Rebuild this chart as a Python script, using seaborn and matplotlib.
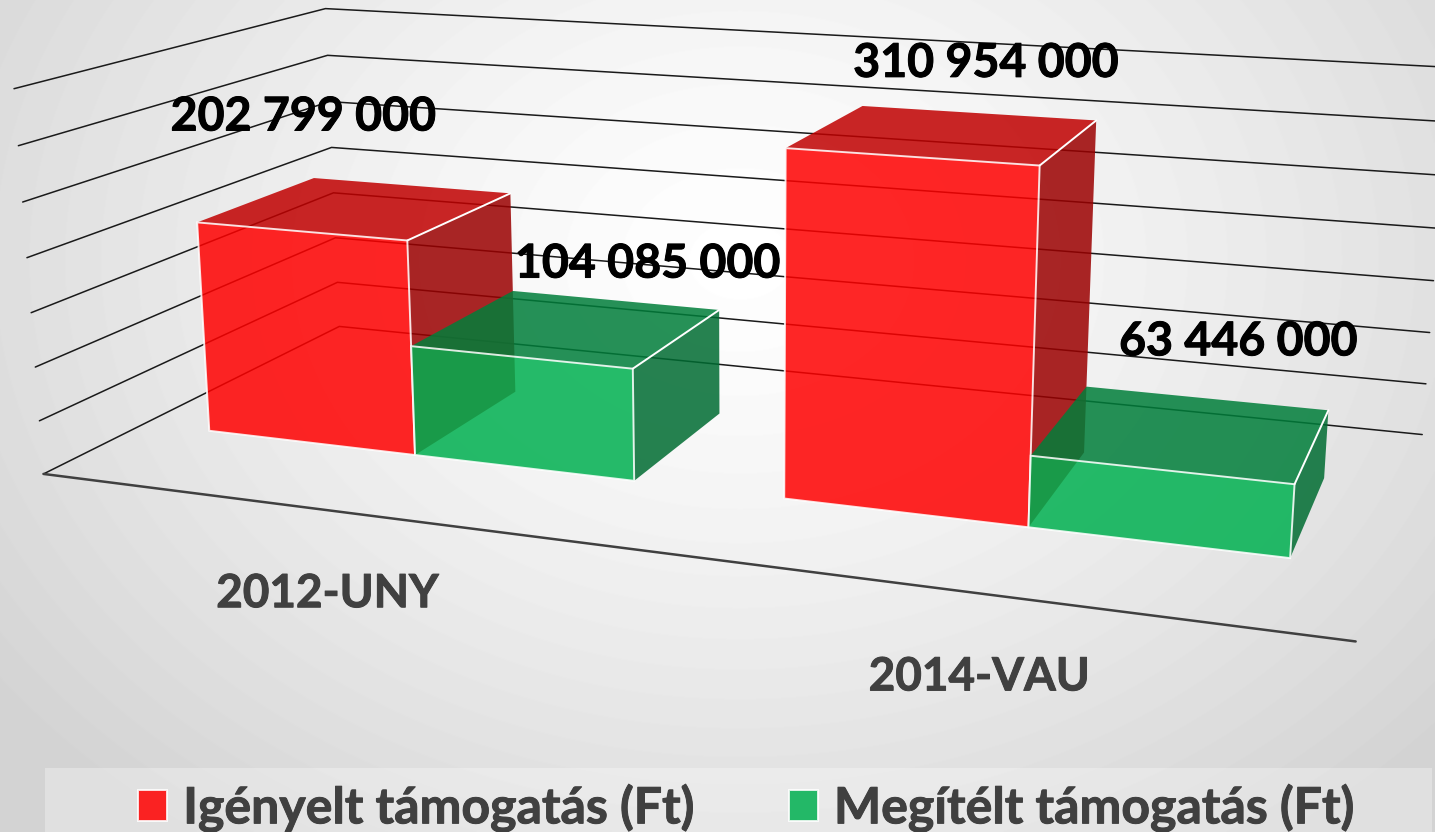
import numpy as np
import pandas as pd
import seaborn as sns
import matplotlib
matplotlib.use("Agg")
import matplotlib.pyplot as plt
from matplotlib import transforms as mtransforms
from matplotlib import patheffects
from matplotlib.patches import Polygon, Rectangle

projects = ["2012-UNY", "2014-VAU"]
requested = [202799000, 310954000]
granted = [104085000, 63446000]
series_names = ["Igényelt támogatás (Ft)", "Megítélt támogatás (Ft)"]
grid_values = [0, 50e6, 100e6, 150e6, 200e6, 250e6, 300e6, 350e6]

W, H = 1435, 832
Z_TOP = 350e6
D_FRONT, D_BACK = 0.30, 0.70
X_LEFT, X_RIGHT = -0.5, 1.5

# Frame of the fake 3D box: (category x, depth, value) -> where it sits in the image
# The chart is flat seaborn bars pushed through this camera
left_front = [(14, 89), (18, 146), (23, 202), (27, 258), (31, 313), (35, 367), (39, 421), (44, 473)]
left_back = [(325, 9), (328, 55), (330, 101), (332, 147), (333, 193), (335, 238), (338, 282), (339, 327)]
calib_world = []
calib_img = []
for i, val in enumerate(grid_values[::-1]):
    calib_world += [(X_LEFT, 0, val), (X_LEFT, 1, val)]
    calib_img += [left_front[i], left_back[i]]
calib_world += [(X_RIGHT, 0, 0), (X_RIGHT, 1, 0), (X_RIGHT, 1, 50e6), (X_RIGHT, 1, 350e6)]
calib_img += [(1356, 641), (1422, 435), (1426, 384), (1449, 67)]


def fitCamera(world, img):
    rows = []
    for (x, y, z), (u, v) in zip(world, img):
        p = [x, y, z / Z_TOP, 1]
        rows.append(p + [0, 0, 0, 0] + [-u * c for c in p])
        rows.append([0, 0, 0, 0] + p + [-v * c for c in p])
    return np.linalg.svd(np.array(rows, float))[2][-1].reshape(3, 4)


camera = fitCamera(calib_world, calib_img)


def project(x, y, z):
    x, y, z = np.broadcast_arrays(np.asarray(x, float), np.asarray(y, float), np.asarray(z, float))
    p = np.stack([x, y, z / Z_TOP, np.ones_like(x)], axis=-1) @ camera.T
    return p[..., :2] / p[..., 2:]


# Image pixels (y down) to display pixels
pix = mtransforms.Affine2D().scale(1, -1).translate(0, H)


class DepthPlane(mtransforms.Transform):
    input_dims = 2
    output_dims = 2

    def __init__(self, plane_depth):
        super().__init__()
        self.plane_depth = plane_depth

    def transform_non_affine(self, values):
        out = project(values[:, 0], self.plane_depth, values[:, 1])
        out[:, 1] = H - out[:, 1]
        return out


sns.set_style("white")
plt.rcParams["font.family"] = ["Lato", "DejaVu Sans"]
thicker = [patheffects.withStroke(linewidth=0.7, foreground="black")]
thicker_grey = [patheffects.withStroke(linewidth=0.7, foreground="#404040")]

fig = plt.figure(figsize=(W / 100, H / 100), dpi=100)

# Soft grey background, white in the middle
bg = fig.add_axes([0, 0, 1, 1], zorder=-1)
yy, xx = np.mgrid[0:H, 0:W]
r = np.sqrt(((xx - 740) / 900) ** 2 + ((yy - 260) / 700) ** 2)
bg.imshow(255 - 42 * np.clip(r, 0, 1.05) ** 1.3, cmap="gray", vmin=0, vmax=255, aspect="auto")
bg.set_axis_off()

ax = fig.add_axes([0, 0, 1, 1])
ax.patch.set_alpha(0)

df = pd.DataFrame({
    "project": projects * 2,
    "value": requested + granted,
    "series": [series_names[0]] * 2 + [series_names[1]] * 2,
})
sns.barplot(data=df, x="project", y="value", hue="series", hue_order=series_names,
            palette=["#ff0000", "#00b050"], saturation=1, width=0.755, gap=0, alpha=0.85,
            edgecolor="white", linewidth=1.4, ax=ax)
handles, labels = ax.get_legend_handles_labels()
ax.set_axis_off()

# Walls and floor lines
for val in grid_values:
    pts = project([X_LEFT, X_LEFT, X_RIGHT], [0, 1, 1], [val, val, val])
    ax.plot(pts[:, 0], pts[:, 1], color="#1a1a1a", lw=1.1, transform=pix, zorder=1)
pts = project([X_LEFT, X_RIGHT], [0, 0], [0, 0])
ax.plot(pts[:, 0], pts[:, 1], color="#404040", lw=1.8, transform=pix, zorder=1)

face_colors = [("#c00000", "#9b0000"), ("#007e3a", "#006c32")]
label_offsets = [[(-55, -91), (40, -71)], [(78, -64), (54, -91)]]

# Bars draw category by category, red first, so green sits over the red side
order = 2
for cat in range(len(projects)):
    for s, container in enumerate(ax.containers):
        bar = container.patches[cat]
        x0, x1, top = bar.get_x(), bar.get_x() + bar.get_width(), bar.get_height()
        side = project([x1, x1, x1, x1], [D_FRONT, D_BACK, D_BACK, D_FRONT], [0, 0, top, top])
        roof = project([x0, x1, x1, x0], [D_FRONT, D_FRONT, D_BACK, D_BACK], [top, top, top, top])
        top_col, side_col = face_colors[s]
        ax.add_patch(Polygon(side, facecolor=side_col, edgecolor="none", alpha=0.85, transform=pix, zorder=order))
        ax.add_patch(Polygon(roof, facecolor=top_col, edgecolor="none", alpha=0.85, transform=pix, zorder=order + 1))
        bar.set_transform(DepthPlane(D_FRONT))
        bar.set_zorder(order + 2)
        bar.set_clip_on(False)
        edge = project([x1, x1], [D_FRONT, D_BACK], [top, top])
        ax.plot(edge[:, 0], edge[:, 1], color="white", lw=1.4, transform=pix, zorder=order + 3)
        order += 4

        anchor = project((x0 + x1) / 2, 0.5, top)
        dx, dy = label_offsets[s][cat]
        ax.text(anchor[0] + dx, anchor[1] + dy, f"{int(top):,}".replace(",", " "), transform=pix,
                ha="center", va="center", fontsize=33.5, fontweight="bold", color="black", zorder=50,
                path_effects=thicker)

for cat, name in enumerate(projects):
    anchor = project(cat, 0, 0)
    ax.text(anchor[0], anchor[1] + 84, name, transform=pix, ha="center", va="center",
            fontsize=33, fontweight="bold", color="#404040", zorder=50, path_effects=thicker_grey)

# Legend band along the bottom
fig.add_artist(Rectangle((45 / W, 0), 1387 / W, 64 / H, transform=fig.transFigure,
                         facecolor="white", alpha=0.3, edgecolor="none", zorder=-0.5))
leg = ax.legend(handles, labels, ncols=2, frameon=False, loc="center", bbox_to_anchor=(746 / W, 24 / H),
                bbox_transform=fig.transFigure, prop={"family": "Lato", "weight": "bold", "size": 36},
                labelcolor="#404040", handlelength=0.58, handleheight=0.58, handletextpad=0.32, columnspacing=1.9)
for t in leg.get_texts():
    t.set_path_effects(thicker_grey)

ax.set_xlim(-0.5, 1.5)
ax.set_ylim(0, Z_TOP)
fig.savefig("out.png", dpi=100)
